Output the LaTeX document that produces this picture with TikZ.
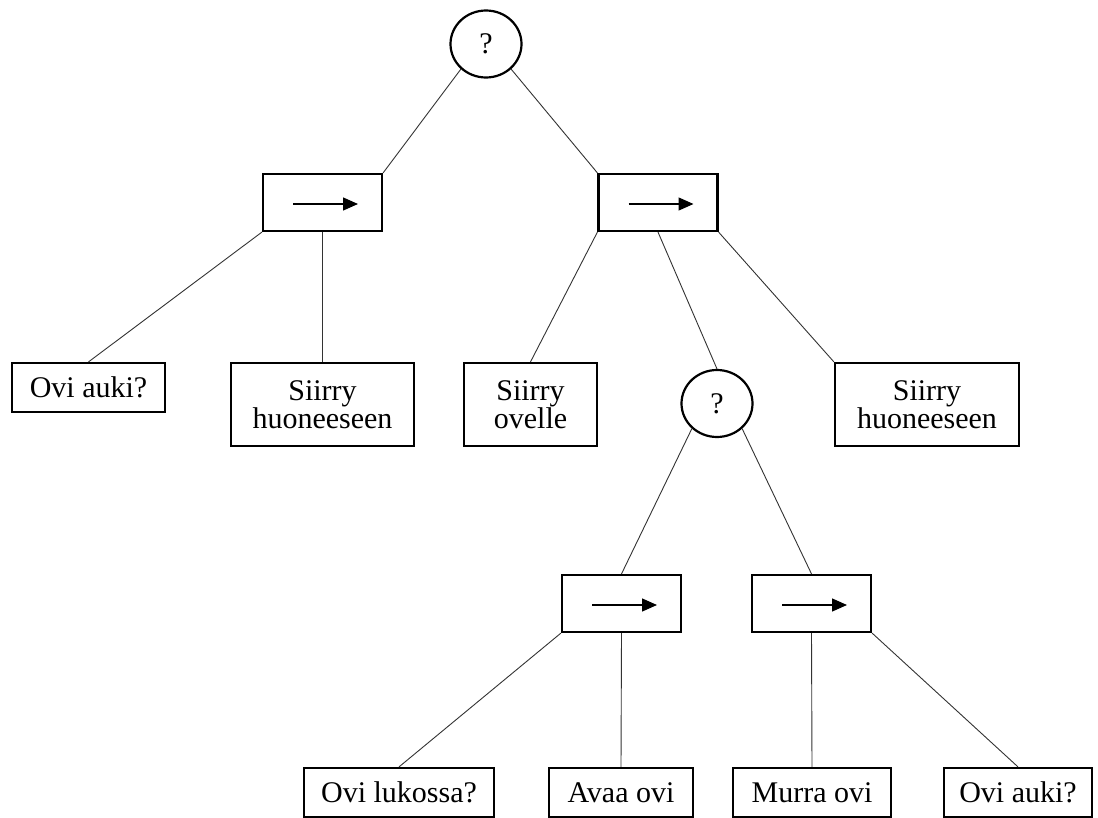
\documentclass[tikz,border=0pt]{standalone}
\usepackage{fontspec}
\setmainfont{Liberation Serif}
\usetikzlibrary{shapes.geometric,arrows.meta}

\begin{document}
\begin{tikzpicture}[x=1pt,y=-1pt,
  every node/.style={font=\fontsize{30}{27}\selectfont, inner sep=0pt, align=center},
  leaf/.style={draw, line width=2.2pt, rectangle},
  selector/.style={draw, line width=2.2pt, ellipse, minimum width=71pt, minimum height=67pt},
  sequence/.style={draw, line width=2.2pt, rectangle, minimum width=119pt, minimum height=57pt,
    path picture={\draw[line width=1.4pt, -{Triangle[length=15pt,width=13pt]}]
      ([xshift=-29.5pt,yshift=-1.5pt]path picture bounding box.center) -- ++(65pt,0);}},
  link/.style={draw, line width=0.9pt, black!80}
]
\useasboundingbox (0,0) rectangle (1098,818);

% root selector and its two sequences
\node[selector] (r)  at (486,44)    {?};
\node[sequence] (b1) at (322.5,202.5) {};
\node[sequence] (b2) at (658,202.5)   {};

% first row of children
\node[leaf, minimum width=153pt, minimum height=49pt] (l1) at (88.5,387.5)  {Ovi auki?};
\node[leaf, minimum width=183pt, minimum height=83pt] (l2) at (322.5,404.5) {Siirry\\huoneeseen};
\node[leaf, minimum width=133pt, minimum height=83pt] (l3) at (530.5,404.5) {Siirry\\ovelle};
\node[selector] (c2) at (717,403.5) {?};
\node[leaf, minimum width=184pt, minimum height=83pt] (l4) at (927,404.5)   {Siirry\\huoneeseen};

% nested sequences
\node[sequence] (b3) at (621.5,603.5) {};
\node[sequence] (b4) at (811.5,603.5) {};

% bottom row
\node[leaf, minimum width=190pt, minimum height=49pt] (m1) at (399,792.5)  {Ovi lukossa?};
\node[leaf, minimum width=144pt, minimum height=49pt] (m2) at (621,792.5)  {Avaa ovi};
\node[leaf, minimum width=158pt, minimum height=49pt] (m3) at (812,792.5)  {Murra ovi};
\node[leaf, minimum width=148pt, minimum height=49pt] (m4) at (1018,792.5) {Ovi auki?};

% connectors
\draw[link] (r.-135) -- (b1.north east);
\draw[link] (r.-45) -- (b2.north west);
\draw[link] (b1.south west) -- (l1.north);
\draw[link] (b1.south) -- (l2.north);
\draw[link] (b2.south west) -- (l3.north);
\draw[link] (b2.south) -- (c2.north);
\draw[link] (b2.south east) -- (l4.north west);
\draw[link] (c2.-135) -- (b3.north);
\draw[link] (c2.-45) -- (b4.north);
\draw[link] (b3.south west) -- (m1.north);
\draw[link] (b3.south) -- (m2.north);
\draw[link] (b4.south) -- (m3.north);
\draw[link] (b4.south east) -- (m4.north);
\end{tikzpicture}
\end{document}
